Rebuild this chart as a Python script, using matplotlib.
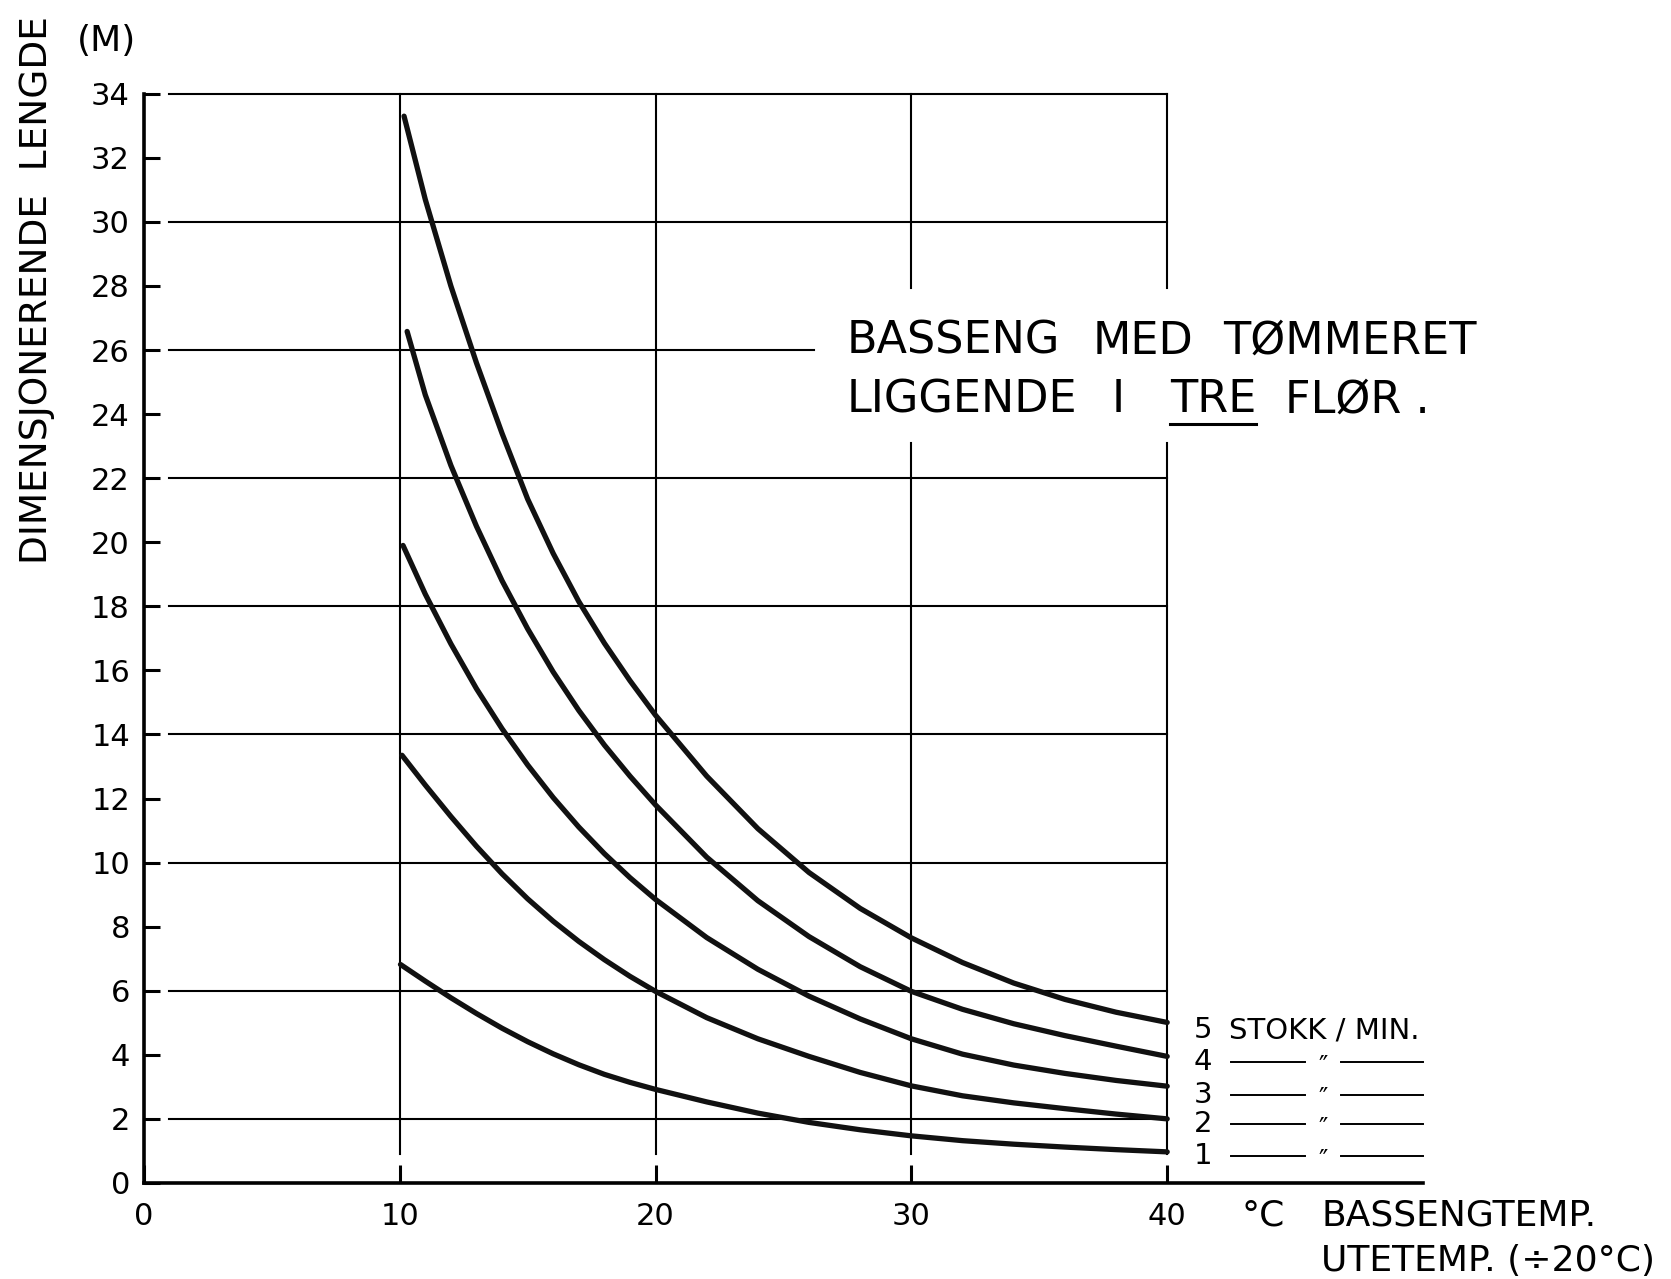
import matplotlib
matplotlib.use("Agg")
import matplotlib.pyplot as plt

plt.rcParams['font.family'] = ['DejaVu Sans']

# readings: x = pool temperature (deg C), y = design length (m)
x5 = [10.17, 11, 12, 13, 14, 15, 16, 17, 18, 19, 20, 22, 24, 26, 28, 30, 32, 34, 36, 38, 40]
y5 = [33.3, 30.7, 28.0, 25.6, 23.4, 21.35, 19.65, 18.15, 16.85, 15.68, 14.6,
      12.7, 11.06, 9.69, 8.57, 7.65, 6.88, 6.24, 5.73, 5.33, 5.01]
x4 = [10.29, 11, 12, 13, 14, 15, 16, 17, 18, 19, 20, 22, 24, 26, 28, 30, 32, 34, 36, 38, 40]
y4 = [26.58, 24.6, 22.4, 20.5, 18.8, 17.3, 15.95, 14.75, 13.67, 12.7, 11.8,
      10.17, 8.81, 7.69, 6.75, 5.98, 5.42, 4.97, 4.6, 4.27, 3.95]
x3 = [10.13, 11, 12, 13, 14, 15, 16, 17, 18, 19, 20, 22, 24, 26, 28, 30, 32, 34, 36, 38, 40]
y3 = [19.9, 18.38, 16.83, 15.43, 14.18, 13.05, 12.03, 11.11, 10.28, 9.53, 8.85,
      7.66, 6.67, 5.83, 5.12, 4.5, 4.02, 3.68, 3.42, 3.2, 3.02]
x2 = [10.09, 11, 12, 13, 14, 15, 16, 17, 18, 19, 20, 22, 24, 26, 28, 30, 32, 34, 36, 38, 40]
y2 = [13.35, 12.42, 11.44, 10.51, 9.65, 8.87, 8.17, 7.54, 6.97, 6.45, 5.98,
      5.16, 4.5, 3.95, 3.45, 3.03, 2.72, 2.5, 2.32, 2.15, 2.0]
x1 = [10.03, 11, 12, 13, 14, 15, 16, 17, 18, 19, 20, 22, 24, 26, 28, 30, 32, 34, 36, 38, 40]
y1 = [6.82, 6.3, 5.78, 5.29, 4.83, 4.41, 4.03, 3.69, 3.39, 3.14, 2.92,
      2.53, 2.18, 1.89, 1.66, 1.47, 1.32, 1.21, 1.12, 1.04, 0.97]

curve_labels = ["1", "2", "3", "4", "5"]
label_y = [0.83, 1.83, 2.76, 3.76, 4.76]
xticks = [0, 10, 20, 30, 40]
yticks = list(range(0, 35, 2))

fig = plt.figure(figsize=(16.71, 12.79), dpi=100)
ax = fig.add_axes([0.0861, 0.0751, 0.7655, 0.8516])
ax.set_xlim(0, 50)
ax.set_ylim(0, 34)

for s in ["top", "right"]:
    ax.spines[s].set_visible(False)
for s in ["left", "bottom"]:
    ax.spines[s].set_linewidth(2.6)

ax.set_xticks(xticks)
ax.set_yticks(yticks)
ax.tick_params(axis="x", direction="in", length=13, width=2.2, labelsize=22, pad=14)
ax.tick_params(axis="y", direction="in", length=11.5, width=2.2, labelsize=22, pad=10)
ax.set_xticklabels([str(v) for v in xticks])
ax.set_yticklabels([str(v) for v in yticks])

# grid: long lines every 4 m from 2, verticals every 10 deg, gap round the title
gk = dict(color="black", lw=1.5, clip_on=False, zorder=1)
for yv in range(2, 35, 4):
    ax.plot([1.0, 26.2 if yv == 26 else 40], [yv, yv], **gk)
ax.plot([10, 10], [0.9, 34], **gk)
ax.plot([20, 20], [0.9, 34], **gk)
for xv in (30, 40):
    ax.plot([xv, xv], [0.9, 23.1], **gk)
    ax.plot([xv, xv], [27.95, 34], **gk)

for xs, ys in [(x1, y1), (x2, y2), (x3, y3), (x4, y4), (x5, y5)]:
    ax.plot(xs, ys, color="#111111", lw=3.8, solid_capstyle="round",
            solid_joinstyle="round", zorder=3)

# legend written at the curve ends
for lab, yl in zip(curve_labels, label_y):
    ax.text(41.4, yl, lab, fontsize=21, ha="center", va="center")
    if lab == "5":
        ax.text(42.4, yl, "STOKK / MIN.", fontsize=21, ha="left", va="center")
    else:
        ax.plot([42.5, 45.4], [yl, yl], color="black", lw=1.4, clip_on=False)
        ax.text(46.1, yl - 0.1, "″", fontsize=18, ha="center", va="center")
        ax.plot([46.8, 50.0], [yl, yl], color="black", lw=1.4, clip_on=False)

# title block
tk = dict(fontsize=32, va="center", clip_on=False)
ax.text(27.45, 26.28, "BASSENG", ha="left", **tk)
ax.text(37.08, 26.28, "MED", ha="left", **tk)
ax.text(42.17, 26.28, "TØMMERET", ha="left", **tk)
ax.text(27.45, 24.45, "LIGGENDE", ha="left", **tk)
ax.text(38.1, 24.45, "I", ha="center", **tk)
t_tre = ax.text(40.1, 24.45, "TRE", ha="left", **tk)
ax.text(44.6, 24.45, "FLØR .", ha="left", **tk)
fig.canvas.draw()
bb = t_tre.get_window_extent().transformed(ax.transData.inverted())
ax.plot([bb.x0, bb.x1], [23.7, 23.7], color="black", lw=2.2, clip_on=False)

# axis titles
fig.text(0.022, 0.773, "DIMENSJONERENDE  LENGDE", rotation=90, fontsize=27,
         ha="center", va="center")
fig.text(0.0638, 0.968, "(M)", fontsize=26, ha="center", va="center")
fig.text(0.743, 0.050, "°C", fontsize=26, ha="left", va="center")
fig.text(0.7906, 0.050, "BASSENGTEMP.", fontsize=26, ha="left", va="center")
fig.text(0.7906, 0.014, "UTETEMP. (÷20°C)", fontsize=26, ha="left", va="center")

fig.savefig("out.png", dpi=100)
